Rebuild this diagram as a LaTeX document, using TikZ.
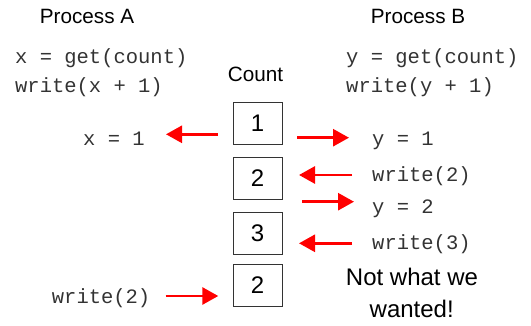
\documentclass[tikz,border=0pt]{standalone}
\usepackage{fontspec}
\setmainfont{Liberation Sans}
\setmonofont{Liberation Mono}
\usetikzlibrary{arrows.meta}
\definecolor{codegray}{HTML}{333333}
\begin{document}
\begin{tikzpicture}[x=1pt,y=-1pt,
  title/.style={font=\fontsize{20.7}{24}\selectfont, inner sep=0pt, anchor=base},
  code/.style={font=\fontsize{20.5}{24}\ttfamily\selectfont, text=codegray, inner sep=0pt, anchor=base west},
  cell/.style={draw=codegray, line width=0.9pt, minimum width=49pt, minimum height=42pt, inner sep=0pt, font=\fontsize{24}{28}\selectfont},
  flow/.style={draw=red, line width=2.8pt, -{Triangle[length=16pt,width=17pt]}},
  big/.style={font=\fontsize{24}{28}\selectfont, inner sep=0pt, anchor=base}]
\useasboundingbox (0,0) rectangle (531,326);
% titles
\node[title] (pa) at (87,23.3) {Process A};
\node[title] (pb) at (418,23.3) {Process B};
\node[title] (cnt) at (255.5,82) {Count};
% code
\node[code] (a1) at (15,63.3) {x = get(count)};
\node[code] (a2) at (15,92.7) {write(x + 1)};
\node[code] (b1) at (346,63.3) {y = get(count)};
\node[code] (b2) at (346,92.7) {write(y + 1)};
\node[code] (xa) at (83,145.7) {x = 1};
\node[code] (ya) at (372,145.7) {y = 1};
\node[code] (w2) at (372,181.7) {write(2)};
\node[code] (yb) at (372,213.3) {y = 2};
\node[code] (w3) at (372,250) {write(3)};
\node[code] (aw) at (51.7,303.3) {write(2)};
% cells
\node[cell] (c1) at (257.5,123) {1};
\node[cell] (c2) at (257.5,178) {2};
\node[cell] (c3) at (257.5,233) {3};
\node[cell] (c4) at (257.5,285.5) {2};
% remark
\node[big] (n1) at (412,286) {Not what we};
\node[big] (n2) at (411.7,318) {wanted!};
% arrow endpoints
\coordinate (s1) at (218,134.3); \coordinate (e1) at (166,134.3);
\coordinate (s2) at (297,137.7); \coordinate (e2) at (349,137.7);
\coordinate (s3) at (352,175); \coordinate (e3) at (299,175);
\coordinate (s4) at (302,201.7); \coordinate (e4) at (354,201.7);
\coordinate (s5) at (352,243.3); \coordinate (e5) at (299,243.3);
\coordinate (s6) at (165.7,296); \coordinate (e6) at (218.3,296);
\draw[flow] (s1) -- (e1);
\draw[flow] (s2) -- (e2);
\draw[flow] (s3) -- (e3);
\draw[flow] (s4) -- (e4);
\draw[flow] (s5) -- (e5);
\draw[flow] (s6) -- (e6);
\end{tikzpicture}
\end{document}
